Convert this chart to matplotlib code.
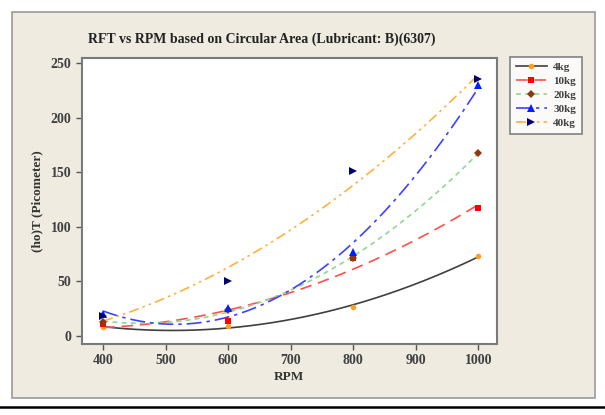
import numpy as np
import matplotlib
matplotlib.use("Agg")
import matplotlib.pyplot as plt
from matplotlib.lines import Line2D
from matplotlib.patches import Rectangle

rpm = [400, 600, 800, 1000]
labels = ["4kg", "10kg", "20kg", "30kg", "40kg"]
v4 = [8, 9, 27, 73]
v10 = [11, 14, 71, 117]
v20 = [13, 24, 71, 168]
v30 = [20, 26, 77, 230]
v40 = [18, 50, 151, 235]
series = [v4, v10, v20, v30, v40]

line_colors = ["#404040", "#FF5050", "#90D890", "#4040FF", "#FFB040"]
marker_colors = ["#FFA020", "#FF0000", "#8B3A10", "#0020FF", "#00006E"]
markers = ["o", "s", "D", "^", ">"]
styles = ["-", (0, (7, 4)), (0, (3, 2.5)), (0, (9, 3, 2, 3)), (0, (6, 2.5, 1.5, 2.5, 1.5, 2.5))]
msizes = [4, 5, 4.5, 6, 6]

serif = "Liberation Serif"
W, H = 605, 415
fig = plt.figure(figsize=(W / 100, H / 100), dpi=100)
fig.patch.set_facecolor("white")

# beige panel
panel = Rectangle((12 / W, 1 - 398 / H), (595 - 12) / W, (398 - 12) / H,
                  transform=fig.transFigure, facecolor="#EFEBE1",
                  edgecolor="#9A9A9A", lw=1.2, zorder=-5)
fig.add_artist(panel)
# bottom black rule
fig.add_artist(Line2D([0, 1], [1 - 407 / H] * 2, transform=fig.transFigure,
                      color="black", lw=1.8))

ax = fig.add_axes([82 / W, 1 - 344 / H, (497 - 82) / W, (344 - 58) / H])
ax.set_zorder(2)
ax.set_facecolor("white")

xs = np.linspace(400, 1000, 200)
handles = []
for vals, lc, mc, mk, ls, ms, lab in zip(series, line_colors, marker_colors,
                                          markers, styles, msizes, labels):
    coef = np.polyfit(rpm, vals, 2)
    ax.plot(xs, np.polyval(coef, xs), color=lc, ls=ls, lw=1.2, zorder=2)
    ax.plot(rpm, vals, ls="none", marker=mk, color=mc, ms=ms,
            markeredgewidth=0, zorder=3)
    handles.append(Line2D([], [], color=lc, ls=ls, lw=1.2, marker=mk,
                          markerfacecolor=mc, markeredgewidth=0, ms=ms))

ax.set_xlim(366, 1030)
ax.set_ylim(-7.3, 254.6)
ax.set_xticks([400, 500, 600, 700, 800, 900, 1000])
ax.set_yticks([0, 50, 100, 150, 200, 250])
for s in ax.spines.values():
    s.set_color("#7A7A7A")
    s.set_linewidth(1.5)
ax.tick_params(direction="out", length=4, width=1, color="#555555",
               labelcolor="#404040", labelsize=10)
for t in ax.get_xticklabels() + ax.get_yticklabels():
    t.set_fontfamily(serif)
    t.set_fontweight("bold")

fig.text(262 / W, 1 - 39 / H, "RFT vs RPM based on Circular Area (Lubricant: B)(6307)",
         ha="center", va="center", fontsize=10, fontweight="bold",
         family=serif, color="#222222")
fig.text(289 / W, 1 - 377 / H, "RPM", ha="center", va="center", fontsize=9.5,
         fontweight="bold", family=serif, color="#333333")
fig.text(37 / W, 1 - 201 / H, "(ho)T (Picometer)", ha="center", va="center",
         rotation=90, fontsize=9.5, fontweight="bold", family=serif, color="#333333")

leg = fig.legend(handles, labels, loc="upper left",
                 bbox_to_anchor=(510 / W, 1 - 57 / H), frameon=True,
                 fancybox=False, prop={"family": serif, "weight": "bold", "size": 8},
                 handlelength=2.8, labelspacing=0.38, borderpad=0.5,
                 handletextpad=0.6, borderaxespad=0)
leg.set_zorder(3)
leg.get_frame().set_edgecolor("#707070")
leg.get_frame().set_linewidth(1.3)
leg.get_frame().set_facecolor("white")
for t in leg.get_texts():
    t.set_color("#404040")

fig.savefig("out.png", dpi=100)
